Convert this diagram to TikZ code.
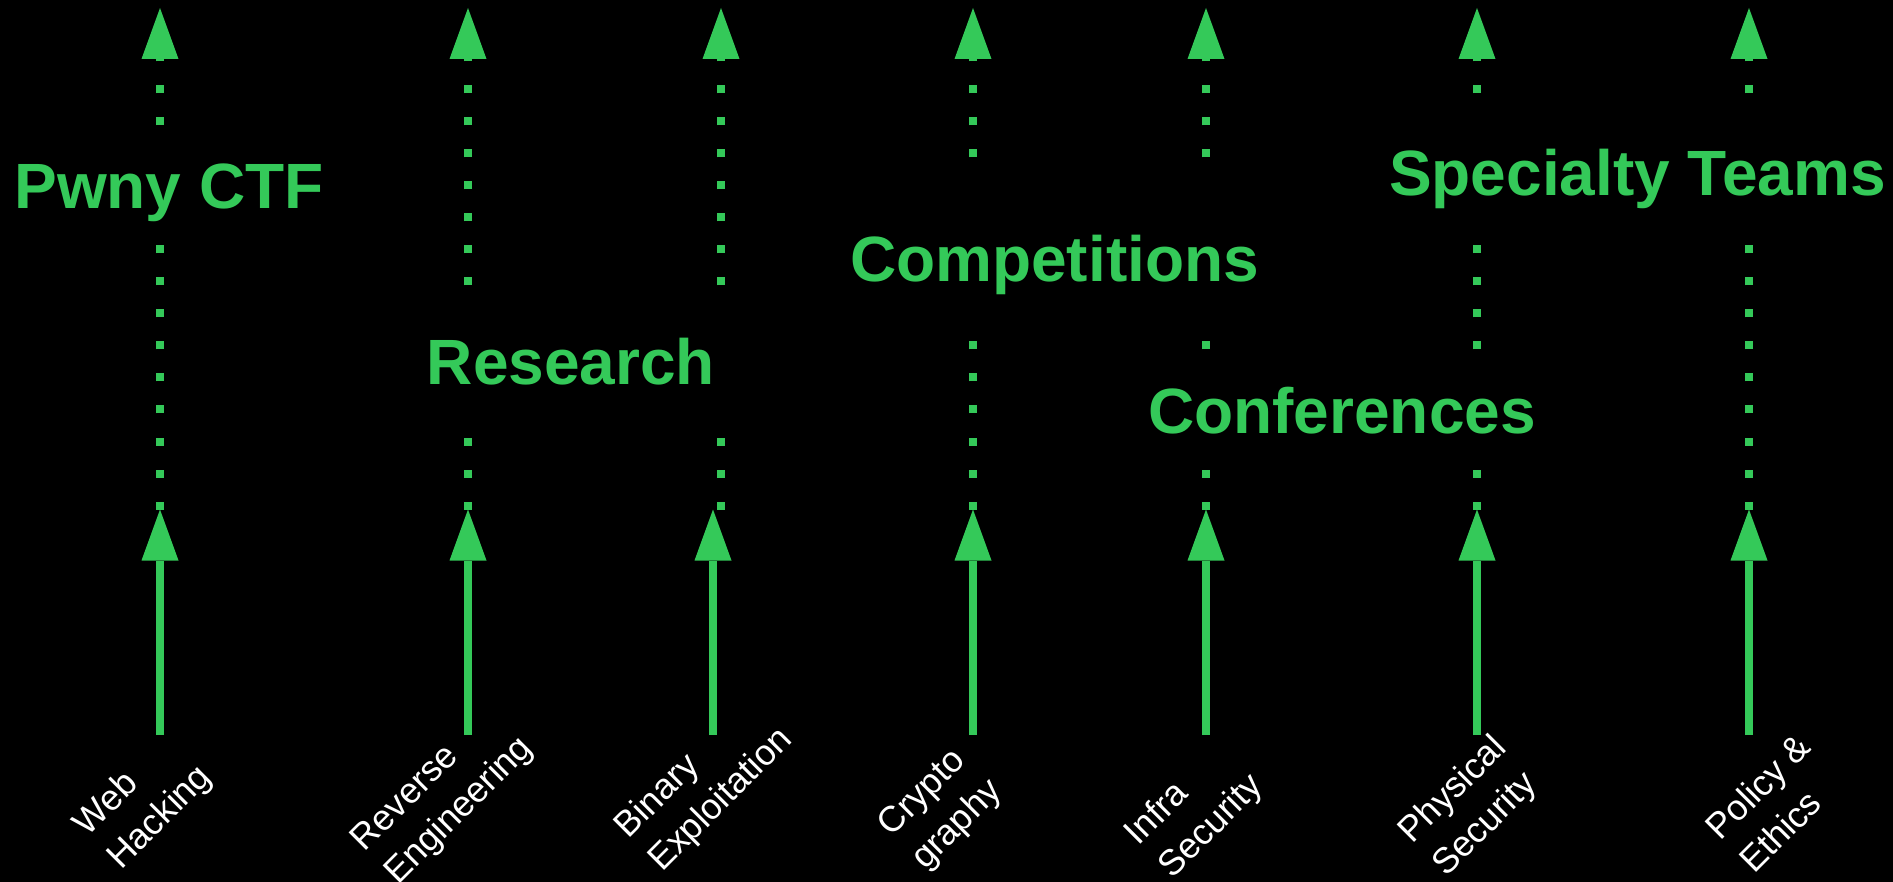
\documentclass[tikz,border=0pt]{standalone}
\usepackage{fontspec}
\setmainfont{Liberation Sans}
\usetikzlibrary{arrows.meta}
\definecolor{tgreen}{RGB}{52,201,89}
\begin{document}
\begin{tikzpicture}[x=1pt,y=-1pt,
  tip/.style={-{Triangle[width=37pt,length=51pt,line width=0pt,fill=tgreen]}},
  solidarrow/.style={draw=tgreen, line width=8pt, line cap=butt, tip},
  dotarrow/.style={draw=tgreen, line width=8pt, line cap=butt, dash pattern=on 8pt off 24pt, tip},
  heading/.style={text=tgreen, fill=black, font=\fontsize{64}{77}\selectfont\bfseries, inner xsep=14pt, inner ysep=0pt, anchor=base},
  topic/.style={text=white, font=\fontsize{36}{47}\selectfont, align=left, rotate=45, anchor=base west, inner sep=0pt},
]
\fill[black] (0,0) rectangle (1893,882);
\useasboundingbox (0,0) rectangle (1893,882);

% column coordinates: B = foot of solid arrow, M = tip of solid arrow, T = top tip
\coordinate (webB) at (160,735);  \coordinate (webM) at (160,509.5);  \coordinate (webT) at (160,8);
\coordinate (revB) at (468,735);  \coordinate (revM) at (468,509.5);  \coordinate (revT) at (468,8);
\coordinate (binB) at (713,735);  \coordinate (binM) at (713,509.5);  \coordinate (binT) at (721,8);
\coordinate (binD) at (721,509.5);
\coordinate (cryB) at (973,735);  \coordinate (cryM) at (973,509.5);  \coordinate (cryT) at (973,8);
\coordinate (infB) at (1206,735); \coordinate (infM) at (1206,509.5); \coordinate (infT) at (1206,8);
\coordinate (phyB) at (1477,735); \coordinate (phyM) at (1477,509.5); \coordinate (phyT) at (1477,8);
\coordinate (polB) at (1749,735); \coordinate (polM) at (1749,509.5); \coordinate (polT) at (1749,8);

% solid arrows
\foreach \c in {web,rev,bin,cry,inf,phy,pol}
  \draw[solidarrow] (\c B) -- (\c M);

% dotted arrows
\foreach \c in {web,rev,cry,inf,phy,pol}
  \draw[dotarrow] (\c M) -- (\c T);
\draw[dotarrow] (binD) -- (binT);

% headings (black boxes interrupt the dotted lines)
\node[heading, text height=79pt, text depth=29pt] (pwny) at (169,209) {Pwny CTF};
\node[heading, text height=93pt, text depth=43pt, inner xsep=20pt] (research) at (571,385) {Research};
\node[heading, text height=117pt, text depth=48pt] (competitions) at (1054.5,282) {Competitions};
\node[heading, text height=78pt, text depth=24pt] (conferences) at (1342,434) {Conferences};
\node[heading, text height=96pt, text depth=39pt] (specialty) at (1637.5,196) {Specialty Teams};

% topic labels (anchor = start of the last line's baseline)
\node[topic] (web) at (121,871) {Web\\Hacking};
\node[topic] (rev) at (398,886) {Reverse\\Engineering};
\node[topic] (bin) at (662,873) {Binary\\Exploitation};
\node[topic] (cry) at (925,871) {Crypto\\graphy};
\node[topic] (inf) at (1172,880) {Infra\\Security};
\node[topic] (phy) at (1446,878) {Physical\\Security};
\node[topic] (pol) at (1754,875) {Policy \&\\Ethics};
\end{tikzpicture}
\end{document}
